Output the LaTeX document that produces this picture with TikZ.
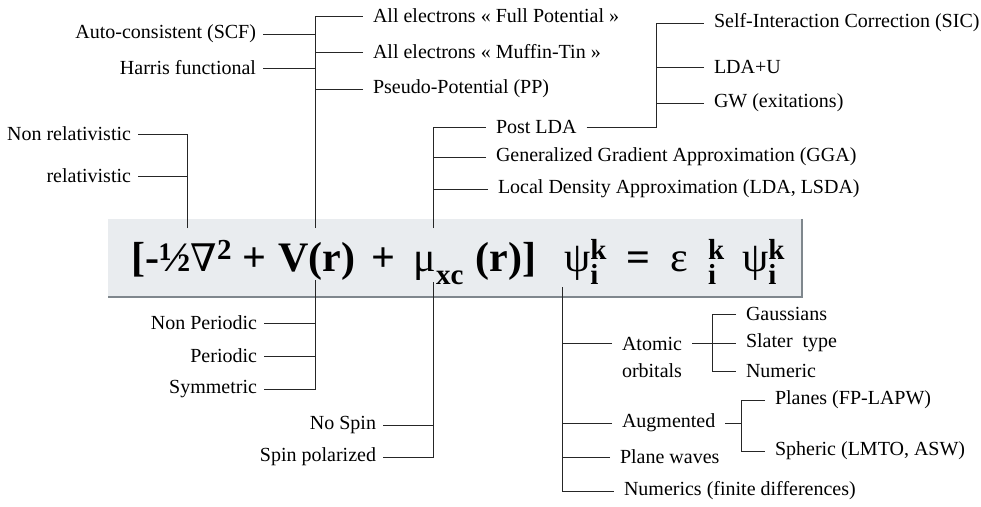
\documentclass[tikz,border=0pt]{standalone}
\usepackage{fontspec}
\setmainfont{Liberation Serif}
\newfontfamily\nablafont{DejaVu Serif}
\usepackage{tikz}

\definecolor{boxfill}{HTML}{E9ECEF}
\definecolor{boxedge}{HTML}{7F878D}

\newcommand{\eqsup}[1]{\raisebox{0.28em}{\fontsize{29}{29}\selectfont #1}}
\newcommand{\eqsub}[1]{\raisebox{-0.33em}{\fontsize{29}{29}\selectfont #1}}
\newcommand{\eqik}{\rlap{\eqsub{i}}\eqsup{k}}

\begin{document}
\begin{tikzpicture}[
  x=1pt, y=-1pt,
  every node/.style={font=\fontsize{20}{27}\selectfont},
  lblR/.style={anchor=west, inner sep=0pt, outer xsep=10pt},
  lblL/.style={anchor=east, inner sep=0pt, outer xsep=7pt},
  wire/.style={draw=black!85, line width=1pt},
  eqbox/.style={fill=boxfill, inner sep=0pt, minimum width=694pt, minimum height=78pt},
  eqtext/.style={anchor=base west, inner sep=0pt, font=\fontsize{42}{42}\selectfont\bfseries}
]
\useasboundingbox (0,0) rectangle (981,506);

\node[eqbox] (box) at (455,258) {};
\draw[boxedge, line width=1.8pt] (box.north east) -- (box.south east) -- (box.south west);
\node[eqtext] (eq) at (131,271) {[-½{\nablafont\mdseries\fontsize{38}{38}\selectfont ∇}\eqsup{2}\hspace{11pt}+\hspace{12pt}V(r)\hspace{16pt}+\hspace{18pt}{\mdseries μ}\eqsub{xc}\hspace{12pt}(r)]\hspace{28pt}{\mdseries ψ}\eqik\hspace{20pt}=\hspace{20pt}{\mdseries ε}\hspace{20pt}\eqik\hspace{18pt}{\mdseries ψ}\eqik};

\coordinate (relT) at (187,228);
\coordinate (vT) at (315,228);
\coordinate (muT) at (433,228);
\coordinate (vB) at (315,280);
\coordinate (muB) at (433,282);
\coordinate (psiB) at (562,287);

\node[lblL] (nonrel) at (138,134) {Non relativistic};
\node[lblL] (rel) at (138,176) {relativistic};
\draw[wire] (relT) |- (nonrel.east);
\draw[wire] (rel.east) -- (rel.east -| relT);

\node[lblL] (scf) at (263,34) {Auto-consistent (SCF)};
\node[lblL] (harris) at (263,68) {Harris functional};
\node[lblR] (fullpot) at (363,16) {All electrons « Full Potential »};
\node[lblR] (muffin) at (363,52) {All electrons « Muffin-Tin »};
\node[lblR] (pseudo) at (363,89) {Pseudo-Potential (PP)};
\draw[wire] (vT) |- (fullpot.west);
\draw[wire] (scf.east) -- (scf.east -| vT);
\draw[wire] (harris.east) -- (harris.east -| vT);
\draw[wire] (muffin.west) -- (muffin.west -| vT);
\draw[wire] (pseudo.west) -- (pseudo.west -| vT);

\node[lblR] (postlda) at (486,127) {Post LDA};
\node[lblR] (gga) at (486,157) {Generalized Gradient Approximation (GGA)};
\node[lblR] (lda) at (488,189) {Local Density Approximation (LDA, LSDA)};
\draw[wire] (muT) |- (postlda.west);
\draw[wire] (gga.west) -- (gga.west -| muT);
\draw[wire] (lda.west) -- (lda.west -| muT);

\coordinate (postJ) at (656,127);
\node[lblR] (sic) at (704,23) {Self-Interaction Correction (SIC)};
\node[lblR] (ldau) at (704,67) {LDA+U};
\node[lblR] (gw) at (704,103) {GW (exitations)};
\draw[wire] (postlda.east) -- (postJ) |- (sic.west);
\draw[wire] (ldau.west) -- (ldau.west -| postJ);
\draw[wire] (gw.west) -- (gw.west -| postJ);

\node[lblL] (nonper) at (264,323) {Non Periodic};
\node[lblL] (periodic) at (264,356) {Periodic};
\node[lblL] (symm) at (264,389) {Symmetric};
\draw[wire] (vB) |- (symm.east);
\draw[wire] (nonper.east) -- (nonper.east -| vB);
\draw[wire] (periodic.east) -- (periodic.east -| vB);

\node[lblL] (nospin) at (383,425) {No Spin};
\node[lblL] (spinpol) at (383,457) {Spin polarized};
\draw[wire] (muB) |- (spinpol.east);
\draw[wire] (nospin.east) -- (nospin.east -| muB);

\node[lblR, anchor=north west, align=left] (atomic) at (612,337) {Atomic\\orbitals};
\node[lblR] (gauss) at (736,314) {Gaussians};
\node[lblR] (slater) at (736,343) {Slater\ \ type};
\node[lblR] (numeric) at (736,371) {Numeric};
\coordinate (aoJ) at (712,343);
\draw[wire] (atomic.west |- slater.west) -- (psiB |- slater.west);
\draw[wire] (atomic.east |- slater.west) -- (slater.west);
\draw[wire] (gauss.west) -| (aoJ) |- (numeric.west);

\node[lblR] (augm) at (612,423) {Augmented};
\node[lblR] (planes) at (765,400) {Planes (FP-LAPW)};
\node[lblR] (spheric) at (765,451) {Spheric (LMTO, ASW)};
\coordinate (augJ) at (741,423);
\draw[wire] (augm.west) -- (augm.west -| psiB);
\draw[wire] (augm.east) -- (augJ);
\draw[wire] (planes.west) -| (augJ) |- (spheric.west);

\node[lblR] (planew) at (610,457) {Plane waves};
\node[lblR] (numerics) at (614,491) {Numerics (finite differences)};
\draw[wire] (planew.west) -- (planew.west -| psiB);
\draw[wire] (psiB) |- (numerics.west);
\end{tikzpicture}
\end{document}
